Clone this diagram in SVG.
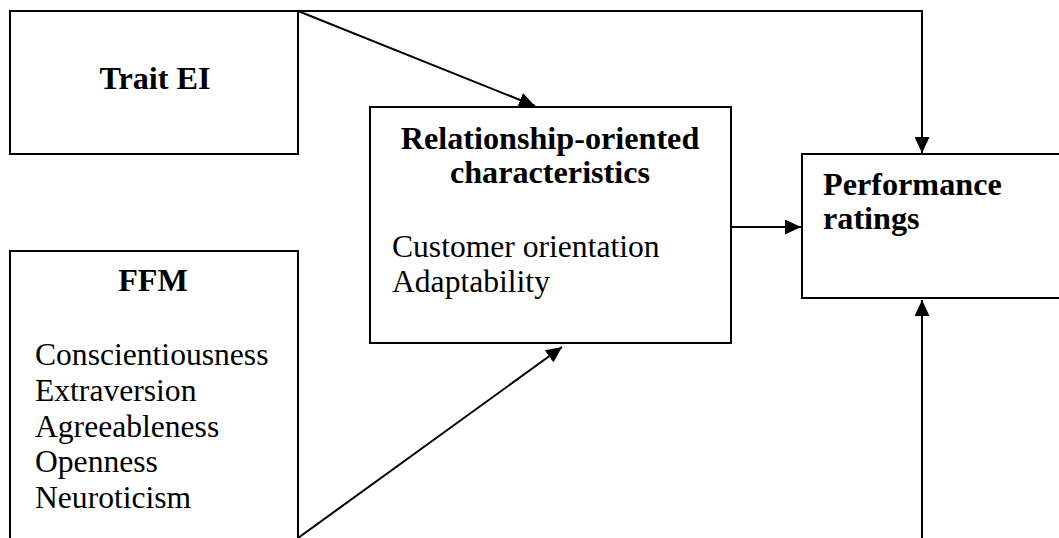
<svg xmlns="http://www.w3.org/2000/svg" width="1059" height="538" viewBox="0 0 1059 538">
<style>
.box{fill:#fff;stroke:#000;stroke-width:2}
.con{fill:none;stroke:#000;stroke-width:2}
text{font-family:"Liberation Serif","Times New Roman",serif;font-size:31.6px;fill:#000}
.b{font-weight:bold;font-size:32.2px}
.c{text-anchor:middle}
</style>
<defs>
<marker id="ah" markerUnits="userSpaceOnUse" markerWidth="17" markerHeight="15" refX="16" refY="7.5" orient="auto">
<path d="M0,0 L16,7.5 L0,15 z" fill="#000"/>
</marker>
</defs>
<rect width="1059" height="538" fill="#fff"/>
<g id="connectors">
<polyline class="con" points="298,11 922,11 922,153" marker-end="url(#ah)"/>
<line class="con" x1="298" y1="11" x2="535" y2="106" marker-end="url(#ah)"/>
<line class="con" x1="731" y1="227" x2="801" y2="227" marker-end="url(#ah)"/>
<line class="con" x1="298" y1="538" x2="562" y2="347" marker-end="url(#ah)"/>
<polyline class="con" points="298,539.4 922,539.4 922,300" marker-end="url(#ah)"/>
</g>
<g id="trait-ei">
<rect class="box" x="10" y="11" width="288" height="143"/>
<text class="b c" x="155" y="89">Trait EI</text>
</g>
<g id="ffm">
<rect class="box" x="10" y="251" width="288" height="290"/>
<text class="b c" x="153" y="291">FFM</text>
<text x="35" y="365">Conscientiousness</text>
<text x="35" y="401">Extraversion</text>
<text x="35" y="437">Agreeableness</text>
<text x="35" y="472">Openness</text>
<text x="35" y="508">Neuroticism</text>
</g>
<g id="relationship">
<rect class="box" x="370" y="107" width="361" height="236"/>
<text class="b c" x="550" y="149">Relationship-oriented</text>
<text class="b c" x="550" y="183">characteristics</text>
<text x="392" y="257">Customer orientation</text>
<text x="392" y="292">Adaptability</text>
</g>
<g id="performance">
<rect class="box" x="802" y="154" width="270" height="144"/>
<text class="b" x="823" y="195">Performance</text>
<text class="b" x="823" y="229">ratings</text>
</g>
</svg>
